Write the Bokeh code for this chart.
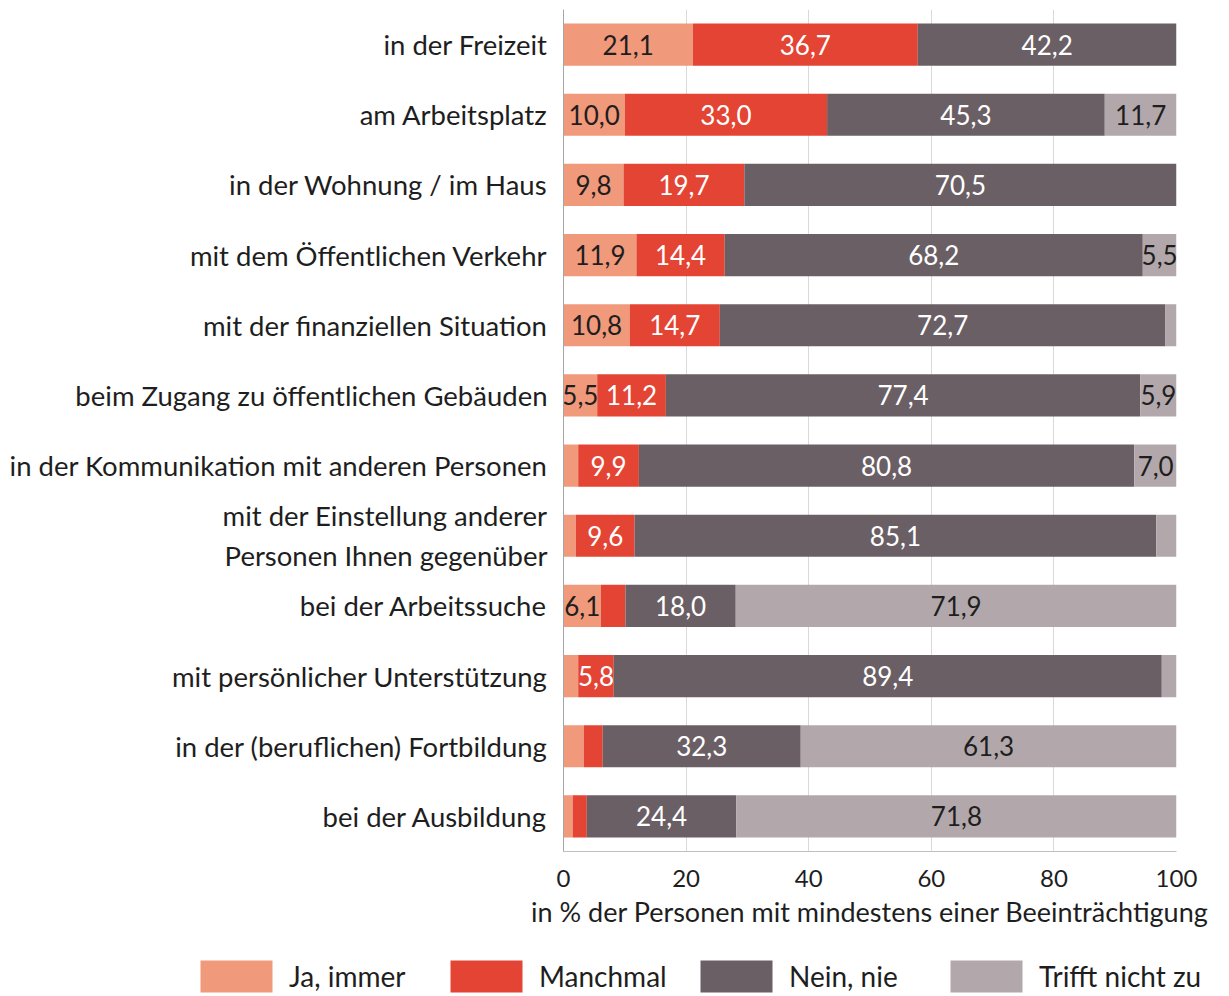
from bokeh.plotting import figure
from bokeh.models import ColumnDataSource, FactorRange, Range1d, FixedTicker, Legend, LegendItem
from bokeh.core.properties import value
from bokeh.embed import file_html
from bokeh.resources import INLINE

categories = [
    "in der Freizeit",
    "am Arbeitsplatz",
    "in der Wohnung / im Haus",
    "mit dem Öffentlichen Verkehr",
    "mit der finanziellen Situation",
    "beim Zugang zu öffentlichen Gebäuden",
    "in der Kommunikation mit anderen Personen",
    "mit der Einstellung anderer\nPersonen Ihnen gegenüber",
    "bei der Arbeitssuche",
    "mit persönlicher Unterstützung",
    "in der (beruflichen) Fortbildung",
    "bei der Ausbildung",
]
ja_immer = [21.1, 10.0, 9.8, 11.9, 10.8, 5.5, 2.4, 2.0, 6.1, 2.4, 3.3, 1.5]
manchmal = [36.7, 33.0, 19.7, 14.4, 14.7, 11.2, 9.9, 9.6, 4.0, 5.8, 3.1, 2.3]
nein_nie = [42.2, 45.3, 70.5, 68.2, 72.7, 77.4, 80.8, 85.1, 18.0, 89.4, 32.3, 24.4]
trifft_nicht_zu = [0.0, 11.7, 0.0, 5.5, 1.8, 5.9, 7.0, 3.3, 71.9, 2.4, 61.3, 71.8]

series_names = ["Ja, immer", "Manchmal", "Nein, nie", "Trifft nicht zu"]
series_values = [ja_immer, manchmal, nein_nie, trifft_nicht_zu]
series_colors = ["#F0997B", "#E44434", "#6B5F66", "#B2A8AB"]
label_colors = ["#1E1E1E", "#FFFFFF", "#FFFFFF", "#1E1E1E"]

FONT = "Lato"

p = figure(
    width=1221, height=944,
    y_range=FactorRange(factors=list(reversed(categories))),
    x_range=Range1d(0, 100),
    output_backend="svg", toolbar_location=None,
    min_border_left=563, min_border_right=45, min_border_top=9, min_border_bottom=93,
)
p.outline_line_color = None

left = [0.0] * len(categories)
for name, vals, col, lcol in zip(series_names, series_values, series_colors, label_colors):
    right = [l + v for l, v in zip(left, vals)]
    mids = [(l + r) / 2 for l, r in zip(left, right)]
    texts = [f"{v:.1f}".replace(".", ",") if v >= 5 else "" for v in vals]
    src = ColumnDataSource(dict(y=categories, left=left, right=right, mid=mids, txt=texts))
    p.hbar(y="y", left="left", right="right", height=0.6, source=src,
           fill_color=col, line_color=None)
    p.text(x="mid", y="y", text="txt", source=src, text_align="center", text_baseline="middle",
           text_color=lcol, text_font=value(FONT), text_font_size="26px")
    left = right

p.xaxis.ticker = FixedTicker(ticks=[0, 20, 40, 60, 80, 100])
p.xaxis.axis_label = "in % der Personen mit mindestens einer Beeinträchtigung"
p.xaxis.axis_label_text_font = FONT
p.xaxis.axis_label_text_font_style = "normal"
p.xaxis.axis_label_text_font_size = "27px"
p.xaxis.axis_label_text_color = "#1E1E1E"
p.xaxis.axis_label_standoff = 5
p.xaxis.major_label_text_font = FONT
p.xaxis.major_label_text_font_size = "24px"
p.xaxis.major_label_text_color = "#1E1E1E"
p.xaxis.major_label_standoff = 12
p.xaxis.axis_line_color = "#BFBFBF"
p.xaxis.major_tick_line_color = None
p.xaxis.minor_tick_line_color = None

p.yaxis.major_label_text_font = FONT
p.yaxis.major_label_text_font_size = "27.5px"
p.yaxis.major_label_text_color = "#1E1E1E"
p.yaxis.major_label_standoff = 10
p.yaxis.axis_line_color = "#A6A6A6"
p.yaxis.major_tick_line_color = None
p.yaxis.minor_tick_line_color = None

p.xgrid.grid_line_color = "#D9D9D9"
p.ygrid.grid_line_color = None

# legend in its own strip below the chart
lg = figure(width=1221, height=52, output_backend="svg", toolbar_location=None,
            min_border=0, x_axis_type=None, y_axis_type=None,
            x_range=Range1d(0, 1), y_range=Range1d(0, 1))
lg.outline_line_color = None
lg.xgrid.visible = False
lg.ygrid.visible = False
nan = float("nan")
items = []
for name, col in zip(series_names, series_colors):
    r = lg.hbar(y=[nan], left=[nan], right=[nan], height=1, fill_color=col, line_color=None)
    items.append(LegendItem(label=name, renderers=[r]))
legend = Legend(items=items, orientation="horizontal", location=(191, 0),
                glyph_width=90, glyph_height=40, label_standoff=8, label_width=152,
                spacing=0, padding=0, margin=0, border_line_color=None,
                background_fill_alpha=0, label_text_font=FONT, label_text_font_size="28px",
                label_text_color="#1E1E1E")
lg.add_layout(legend, "center")

open("out.html", "w").write(file_html([p, lg], INLINE))
